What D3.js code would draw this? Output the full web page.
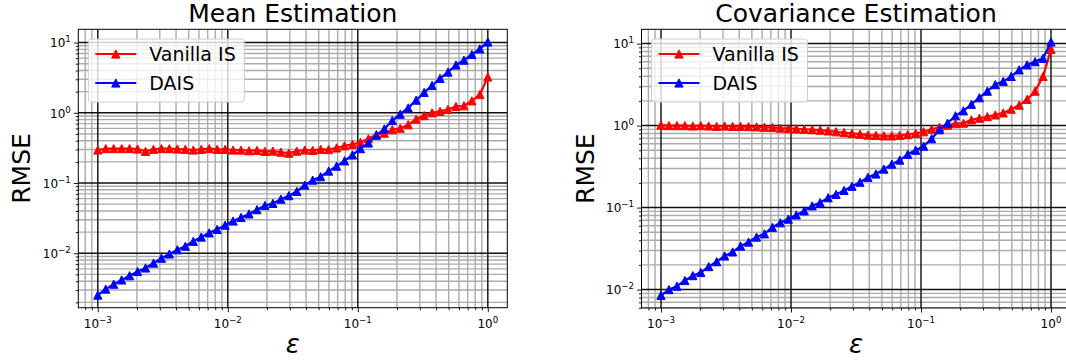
<!DOCTYPE html>
<html>
<head>
<meta charset="utf-8">
<script src="https://cdn.jsdelivr.net/npm/d3@7/dist/d3.min.js"></script>
<style>
html,body{margin:0;padding:0;background:#fff;}
svg{display:block;font-family:"DejaVu Sans",sans-serif;}
</style>
</head>
<body>
<svg id="chart" width="1066" height="362"></svg>
<script>
// ---- data ----
const eps = [0.001, 0.0011514, 0.0013257, 0.0015264, 0.0017575, 0.0020236, 0.0023300, 0.0026827, 0.0030888, 0.0035565,
  0.0040949, 0.0047149, 0.0054287, 0.0062506, 0.0071969, 0.0082864, 0.0095410, 0.010985, 0.012649, 0.014563,
  0.016768, 0.019307, 0.022230, 0.025595, 0.029471, 0.033932, 0.039069, 0.044984, 0.051795, 0.059636,
  0.068665, 0.079060, 0.091030, 0.10481, 0.12068, 0.13895, 0.15999, 0.18421, 0.21210, 0.24421,
  0.28118, 0.32375, 0.37276, 0.42919, 0.49417, 0.56899, 0.65513, 0.75431, 0.86851, 1.0];

const meanVanilla = [0.295, 0.309, 0.309, 0.309, 0.309, 0.305, 0.282, 0.302, 0.309, 0.309,
  0.305, 0.302, 0.295, 0.302, 0.309, 0.302, 0.302, 0.295, 0.295, 0.288,
  0.292, 0.282, 0.285, 0.275, 0.266, 0.285, 0.295, 0.292, 0.302, 0.299,
  0.316, 0.339, 0.355, 0.380, 0.427, 0.490, 0.513, 0.575, 0.603, 0.676,
  0.813, 0.912, 1.000, 1.047, 1.122, 1.230, 1.259, 1.479, 1.820, 3.236];

const meanDAIS = [0.00254, 0.00309, 0.00363, 0.00417, 0.00479, 0.00550, 0.00617, 0.00724, 0.00851, 0.00977,
  0.0112, 0.0126, 0.0148, 0.0170, 0.0195, 0.0219, 0.0251, 0.0288, 0.0324, 0.0363,
  0.0417, 0.0479, 0.0513, 0.0589, 0.0661, 0.0759, 0.0933, 0.110, 0.123, 0.148,
  0.174, 0.207, 0.251, 0.309, 0.372, 0.479, 0.589, 0.776, 0.955, 1.175,
  1.514, 1.95, 2.45, 3.09, 3.80, 4.79, 5.62, 6.76, 8.13, 10.2];

const covVanilla = [1.012, 1.0, 1.0, 1.0, 0.989, 1.0, 0.989, 0.977, 0.989, 0.977,
  0.977, 0.973, 0.966, 0.955, 0.951, 0.933, 0.923, 0.912, 0.902, 0.891,
  0.881, 0.861, 0.841, 0.822, 0.804, 0.785, 0.767, 0.759, 0.750, 0.750,
  0.759, 0.776, 0.804, 0.841, 0.902, 0.955, 1.012, 1.059, 1.072, 1.175,
  1.230, 1.288, 1.349, 1.429, 1.585, 1.778, 2.089, 2.630, 3.981, 8.511];

const covDAIS = [0.00851, 0.0100, 0.0110, 0.0129, 0.0148, 0.0162, 0.0191, 0.0219, 0.0257, 0.0288,
  0.0339, 0.0380, 0.0437, 0.0479, 0.0575, 0.0653, 0.0724, 0.0813, 0.0912, 0.105,
  0.115, 0.132, 0.145, 0.162, 0.182, 0.204, 0.234, 0.257, 0.295, 0.339,
  0.380, 0.447, 0.501, 0.562, 0.692, 0.891, 1.072, 1.318, 1.514, 1.820,
  2.188, 2.630, 3.162, 3.467, 3.981, 4.786, 5.495, 6.026, 6.607, 10.47];

const xTickExps = [-3, -2, -1, 0];
const seriesNames = ["Vanilla IS", "DAIS"];
const seriesColors = ["#ff0000", "#0000ff"];
const titles = ["Mean Estimation", "Covariance Estimation"];
const yLabel = "RMSE";
const xLabel = "\u03b5";

// ---- layout ----
const panels = [
  {title: titles[0], series: [meanVanilla, meanDAIS], left: 78.3, top: 29.3, width: 429, height: 278.4},
  {title: titles[1], series: [covVanilla, covDAIS], left: 641.5, top: 29.3, width: 429, height: 278.7}
];

const svg = d3.select("#chart");
const FONT = "'DejaVu Sans', sans-serif";
const MK = 4.1;

function padLog(vals) {
  const lo = Math.log10(d3.min(vals)), hi = Math.log10(d3.max(vals));
  const m = (hi - lo) * 0.05;
  return [Math.pow(10, lo - m), Math.pow(10, hi + m)];
}

function minorValues(domain) {
  const out = [];
  const a = Math.floor(Math.log10(domain[0])) - 1, b = Math.ceil(Math.log10(domain[1])) + 1;
  for (let e = a; e <= b; e++) {
    for (let k = 2; k <= 9; k++) {
      const v = k * Math.pow(10, e);
      if (v >= domain[0] && v <= domain[1]) out.push(v);
    }
  }
  return out;
}
function majorValues(domain) {
  const out = [];
  const a = Math.ceil(Math.log10(domain[0]) - 1e-9), b = Math.floor(Math.log10(domain[1]) + 1e-9);
  for (let e = a; e <= b; e++) out.push(e);
  return out;
}

function tri(cx, cy, h) {
  return `M${cx},${cy - h}L${cx + h},${cy + h}L${cx - h},${cy + h}Z`;
}

function powLabel(sel, exp, fs) {
  sel.append("tspan").text("10").attr("font-size", fs);
  sel.append("tspan").text(exp < 0 ? "\u2212" + (-exp) : String(exp))
    .attr("font-size", fs * 0.72).attr("dy", -fs * 0.42);
}

panels.forEach((p, pi) => {
  const g = svg.append("g");
  const x = d3.scaleLog().domain(padLog(eps)).range([p.left, p.left + p.width]);
  const allY = p.series[0].concat(p.series[1]);
  const y = d3.scaleLog().domain(padLog(allY)).range([p.top + p.height, p.top]);
  const xd = x.domain(), yd = y.domain();

  const clipId = "clip" + pi;
  svg.append("clipPath").attr("id", clipId).append("rect")
    .attr("x", p.left).attr("y", p.top).attr("width", p.width).attr("height", p.height);

  const grid = g.append("g").attr("clip-path", `url(#${clipId})`);
  // minor grid
  grid.selectAll(".gxm").data(minorValues(xd)).join("line")
    .attr("x1", d => x(d)).attr("x2", d => x(d)).attr("y1", p.top).attr("y2", p.top + p.height)
    .attr("stroke", "#ababab").attr("stroke-width", 1.4);
  grid.selectAll(".gym").data(minorValues(yd)).join("line")
    .attr("y1", d => y(d)).attr("y2", d => y(d)).attr("x1", p.left).attr("x2", p.left + p.width)
    .attr("stroke", "#ababab").attr("stroke-width", 1.4);
  // major grid
  const xMaj = xTickExps.map(e => Math.pow(10, e));
  const yMajE = majorValues(yd);
  const yMaj = yMajE.map(e => Math.pow(10, e));
  grid.selectAll(".gxM").data(xMaj).join("line")
    .attr("x1", d => x(d)).attr("x2", d => x(d)).attr("y1", p.top).attr("y2", p.top + p.height)
    .attr("stroke", "#1a1a1a").attr("stroke-width", 1.5);
  grid.selectAll(".gyM").data(yMaj).join("line")
    .attr("y1", d => y(d)).attr("y2", d => y(d)).attr("x1", p.left).attr("x2", p.left + p.width)
    .attr("stroke", "#111").attr("stroke-width", 1.5);

  // series
  const line = d3.line().x((d, i) => x(eps[i])).y(d => y(d));
  p.series.forEach((s, si) => {
    const col = seriesColors[si];
    g.append("path").datum(s).attr("d", line).attr("fill", "none")
      .attr("stroke", col).attr("stroke-width", 2.2).attr("stroke-linejoin", "round");
    g.append("g").selectAll("path").data(s).join("path")
      .attr("d", (d, i) => tri(x(eps[i]), y(d), MK))
      .attr("fill", col).attr("stroke", col).attr("stroke-width", 1).attr("stroke-linejoin", "miter");
  });

  // spines
  g.append("rect").attr("x", p.left).attr("y", p.top).attr("width", p.width).attr("height", p.height)
    .attr("fill", "none").attr("stroke", "#000").attr("stroke-width", 1);

  // axes ticks
  const bottom = p.top + p.height;
  const axB = g.append("g").attr("transform", `translate(0,${bottom})`)
    .call(d3.axisBottom(x).tickValues(xMaj).tickSize(4.5).tickFormat(""));
  const axBm = g.append("g").attr("transform", `translate(0,${bottom})`)
    .call(d3.axisBottom(x).tickValues(minorValues(xd)).tickSize(2.5).tickFormat(""));
  const axL = g.append("g").attr("transform", `translate(${p.left},0)`)
    .call(d3.axisLeft(y).tickValues(yMaj).tickSize(4.5).tickFormat(""));
  const axLm = g.append("g").attr("transform", `translate(${p.left},0)`)
    .call(d3.axisLeft(y).tickValues(minorValues(yd)).tickSize(2.5).tickFormat(""));
  [axB, axBm, axL, axLm].forEach(a => {
    a.select(".domain").remove();
    a.selectAll("line").attr("stroke", "#000").attr("stroke-width", 0.9);
  });

  // tick labels
  xTickExps.forEach(e => {
    const t = g.append("text").attr("x", x(Math.pow(10, e))).attr("y", bottom + 20)
      .attr("text-anchor", "middle").attr("font-family", FONT).attr("fill", "#000");
    powLabel(t, e, 12);
  });
  yMajE.forEach(e => {
    const t = g.append("text").attr("x", p.left - 7.5).attr("y", y(Math.pow(10, e)) + 4.8)
      .attr("text-anchor", "end").attr("font-family", FONT).attr("fill", "#000");
    powLabel(t, e, 12);
  });

  // titles and labels
  g.append("text").attr("x", p.left + p.width / 2).attr("y", 22)
    .attr("text-anchor", "middle").attr("font-size", 25).attr("font-family", FONT).text(p.title);
  g.append("text").attr("transform", `translate(${p.left - 48},${p.top + p.height / 2}) rotate(-90)`)
    .attr("text-anchor", "middle").attr("font-size", 25).attr("font-family", FONT).text(yLabel);
  g.append("text").attr("x", p.left + p.width / 2).attr("y", 353)
    .attr("text-anchor", "middle").attr("font-size", 26).attr("font-style", "italic")
    .attr("font-family", FONT).text(xLabel);

  // legend
  const lx = p.left + 10, ly = p.top + 9.7;
  const lg = g.append("g");
  lg.append("rect").attr("x", lx).attr("y", ly).attr("width", 156).attr("height", 63).attr("rx", 3)
    .attr("fill", "#fff").attr("fill-opacity", 0.8).attr("stroke", "#cccccc").attr("stroke-width", 1);
  seriesNames.forEach((nm, si) => {
    const yy = ly + 15 + si * 29;
    lg.append("line").attr("x1", lx + 7).attr("x2", lx + 48).attr("y1", yy).attr("y2", yy)
      .attr("stroke", seriesColors[si]).attr("stroke-width", 2.2);
    lg.append("path").attr("d", tri(lx + 27.5, yy, MK)).attr("fill", seriesColors[si])
      .attr("stroke", seriesColors[si]).attr("stroke-width", 1);
    lg.append("text").attr("x", lx + 61).attr("y", yy + 7).attr("font-size", 19)
      .attr("font-family", FONT).attr("fill", "#000").text(nm);
  });
});
</script>
</body>
</html>
